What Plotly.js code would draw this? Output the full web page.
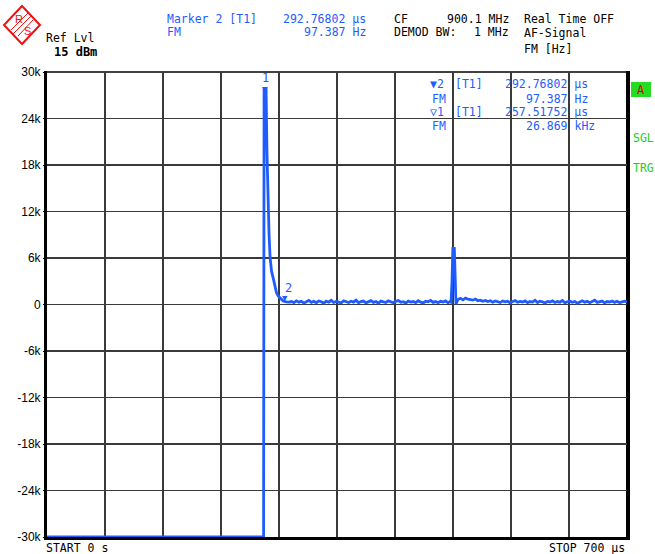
<!DOCTYPE html>
<html><head><meta charset="utf-8">
<script src="https://cdn.plot.ly/plotly-3.0.1.min.js"></script>
<style>html,body{margin:0;padding:0;background:#fff}#c{width:655px;height:554px}</style>
</head><body><div id="c"></div>
<script>
// ---- data (time in µs, FM deviation in Hz) ----
const timeUs = [0, 261.4, 262.0, 262.8, 264.4,
  265.4, 266.6, 268.0, 269.3, 271.0, 273.0, 275.2, 277.0, 279.0, 282.0, 285.0, 289.0, 292.0,
  295, 298, 301, 304, 307, 310, 313, 316, 319, 322, 325, 328, 331, 334, 337, 340, 343, 346, 349, 352,
  355, 358, 361, 364, 367, 370, 373, 376, 379, 382, 385, 388, 391, 394, 397, 400, 403, 406, 409, 412,
  415, 418, 421, 424, 427, 430, 433, 436, 439, 442, 445, 448, 451, 454, 457, 460, 463, 466, 469, 472,
  475, 478, 481, 484, 486,
  487.6, 488.8, 489.8, 491.6, 492.6, 493.6, 496,
  499, 502, 505, 508, 511, 514, 517, 520, 523, 526, 529, 532, 535, 538, 541, 544, 547, 550, 553, 556,
  559, 562, 565, 568, 571, 574, 577, 580, 583, 586, 589, 592, 595, 598, 601, 604, 607, 610, 613, 616,
  619, 622, 625, 628, 631, 634, 637, 640, 643, 646, 649, 652, 655, 658, 661, 664, 667, 670, 673, 676,
  679, 682, 685, 688, 691, 694, 697, 700];
const fmHz = [-30000, -30000, 27900, 27900, 27900,
  20000, 14000, 9000, 6000, 4300, 3400, 2200, 1500, 1100, 700, 450, 350, 300,
  380, 250, 470, 300, 420, 180, 360, 520, 280, 410, 230, 460, 350, 160, 430, 300, 540, 260, 390, 320,
  200, 480, 370, 250, 420, 310, 560, 230, 380, 450, 210, 340, 500, 280, 390, 170, 430, 330, 260, 470,
  350, 220, 400, 510, 290, 360, 190, 440, 320, 380, 250, 480, 300, 200, 420, 350, 530, 270, 380, 230,
  410, 330, 460, 210, 360,
  300, 3000, 7250, 7250, 1000, 50, 650,
  800, 600, 820, 700, 640, 560, 700, 480, 560, 420, 530, 380, 490, 300, 450, 380, 250, 460, 340, 420,
  200, 380, 500, 290, 400, 330, 470, 240, 380, 310, 550, 260, 420, 350, 190, 400, 330, 470, 260, 380,
  300, 520, 210, 360, 430, 280, 390, 160, 340, 470, 300, 410, 230, 380, 560, 270, 350, 440, 200, 380,
  330, 460, 280, 410, 240, 370, 430, 350];
const yTickVals = [-30000, -24000, -18000, -12000, -6000, 0, 6000, 12000, 18000, 24000, 30000];
const yTickText = ['-30k', '-24k', '-18k', '-12k', '-6k', '0', '6k', '12k', '18k', '24k', '30k'];
const marker1 = {t: 263.6, v: 27900};
const marker2 = {t: 290.0, v: 330};

// ---- layout helpers (pixel -> paper) ----
const L = 47, R = 627, T = 72, B = 537;
const px = x => (x - L) / (R - L);
const py = y => (B - y) / (B - T);
const mono = 'DejaVu Sans Mono, Liberation Mono, monospace';
const BLUE = '#1f5cff';
const ann = [];
function A(x, y, text, o = {}) {
  ann.push(Object.assign({xref: 'paper', yref: 'paper', x: px(x), y: py(y), text: text,
    showarrow: false, xanchor: 'left', yanchor: 'middle',
    font: {family: mono, size: 11.5, color: '#000'}}, o));
}
const blueF = {family: mono, size: 11.5, color: BLUE};
// header
A(44, 38, 'Ref Lvl');
A(52, 52, '<b>15 dBm</b>', {font: {family: mono, size: 12, color: '#000'}});
A(165, 19, 'Marker 2 [T1]', {font: blueF});
A(165, 32, 'FM', {font: blueF});
A(368, 19, '292.76802 µs', {font: blueF, xanchor: 'right'});
A(368, 32, '97.387 Hz', {font: blueF, xanchor: 'right'});
A(392, 19, 'CF');
A(392, 32, 'DEMOD BW:');
A(511, 19, '900.1 MHz', {xanchor: 'right'});
A(511, 32, '1 MHz', {xanchor: 'right'});
A(522, 19, 'Real Time OFF');
A(522, 33, 'AF-Signal');
A(522, 49, 'FM [Hz]');
// marker table inside plot
A(428, 84, '▼2', {font: blueF});
A(453, 84, '[T1]', {font: blueF});
A(590, 84, '292.76802 µs', {font: blueF, xanchor: 'right'});
A(430, 99, 'FM', {font: blueF});
A(590, 99, '97.387 Hz', {font: blueF, xanchor: 'right'});
A(428, 112, '▽1', {font: blueF});
A(453, 112, '[T1]', {font: blueF});
A(590, 112, '257.51752 µs', {font: blueF, xanchor: 'right'});
A(430, 126, 'FM', {font: blueF});
A(597, 126, '26.869 kHz', {font: blueF, xanchor: 'right'});
// right side status
A(641, 90, 'A', {font: {family: mono, size: 12, color: '#e00000'}, xanchor: 'center'});
A(631, 138, 'SGL', {font: {family: mono, size: 11.5, color: '#22cc22'}});
A(631, 168, 'TRG', {font: {family: mono, size: 11.5, color: '#22cc22'}});
// bottom
A(44, 548, 'START 0 s');
A(627, 548, 'STOP 700 µs', {xanchor: 'right'});
// logo letters
A(19, 19, 'R', {font: {family: 'Liberation Sans', size: 11, color: '#ee1111'}, xanchor: 'center'});
A(27, 31, 'S', {font: {family: 'Liberation Sans', size: 11, color: '#ee1111'}, xanchor: 'center'});
// trace markers
ann.push({xref: 'x', yref: 'y', x: marker1.t, y: marker1.v, text: '1', showarrow: false,
  yanchor: 'bottom', yshift: 1, font: {family: mono, size: 12, color: BLUE}});
ann.push({xref: 'x', yref: 'y', x: marker1.t, y: marker1.v, text: '▼', showarrow: false,
  yanchor: 'middle', yshift: -1, font: {family: mono, size: 9, color: BLUE}});
ann.push({xref: 'x', yref: 'y', x: marker2.t, y: marker2.v, text: '2', showarrow: false,
  yanchor: 'bottom', yshift: 5, xshift: 1, font: {family: mono, size: 12, color: BLUE}});
ann.push({xref: 'x', yref: 'y', x: marker2.t, y: marker2.v, text: '▼', showarrow: false,
  yanchor: 'middle', yshift: 4, xshift: -2, font: {family: mono, size: 9, color: BLUE}});

const shapes = [];
function line(x0, y0, x1, y1, w, c, layer) {
  shapes.push({type: 'line', xref: 'paper', yref: 'paper', x0: px(x0), y0: py(y0), x1: px(x1), y1: py(y1),
    line: {color: c || '#000', width: w}, layer: layer || 'below'});
}
// centre vertical line thicker
line(337, T, 337, B, 2, '#111');
// frame
line(45.5, T - 1, 45.5, B + 2, 3);
line(44, B + 1.5, 629, B + 1.5, 3);
line(628, T - 1, 628, B + 3, 4);
line(44, T, 629, T, 1.5);
// green status box
shapes.push({type: 'rect', xref: 'paper', yref: 'paper', x0: px(631), x1: px(651), y0: py(97), y1: py(82),
  fillcolor: '#22dd22', line: {width: 0}, layer: 'above'});
// R&S logo diamond
const cx = 22, cy = 25, hw = 18, hh = 19;
function P(x, y) { return px(x) + ',' + py(y); }
shapes.push({type: 'path', xref: 'paper', yref: 'paper',
  path: 'M' + P(cx, cy - hh) + ' L' + P(cx + hw, cy) + ' L' + P(cx, cy + hh) + ' L' + P(cx - hw, cy) + ' Z',
  line: {color: '#ee1111', width: 2}, layer: 'above'});
line(cx + 9, cy - 9, cx - 9, cy + 9, 1, '#ee1111', 'above');
line(cx + 11, cy - 5, cx - 4, cy + 11, 1, '#ee1111', 'above');
line(cx + 6, cy - 12, cx - 11, cy + 5, 1, '#ee1111', 'above');

const trace = {x: timeUs, y: fmHz, type: 'scatter', mode: 'lines',
  line: {color: BLUE, width: 2.8}, cliponaxis: false, hoverinfo: 'skip'};

const layout = {
  width: 655, height: 554,
  margin: {l: L, r: 655 - R, t: T, b: 554 - B, pad: 0},
  paper_bgcolor: '#fff', plot_bgcolor: '#fff',
  showlegend: false,
  xaxis: {range: [0, 700], dtick: 70, tick0: 0, showticklabels: false, ticks: '',
    showgrid: true, gridcolor: '#3a3a3a', gridwidth: 1.2, zeroline: false, showline: false, fixedrange: true},
  yaxis: {range: [-30000, 30000], tickvals: yTickVals, ticktext: yTickText, ticks: 'outside', ticklen: 3,
    tickcolor: '#000', ticklabelstandoff: 0,
    tickfont: {family: 'Liberation Sans Narrow, Liberation Sans, Arial', size: 12, color: '#000'},
    showgrid: true, gridcolor: '#3a3a3a', gridwidth: 1.2, zeroline: false, showline: false, fixedrange: true},
  shapes: shapes,
  annotations: ann
};
Plotly.newPlot('c', [trace], layout, {staticPlot: true, displayModeBar: false});
</script>
</body></html>
